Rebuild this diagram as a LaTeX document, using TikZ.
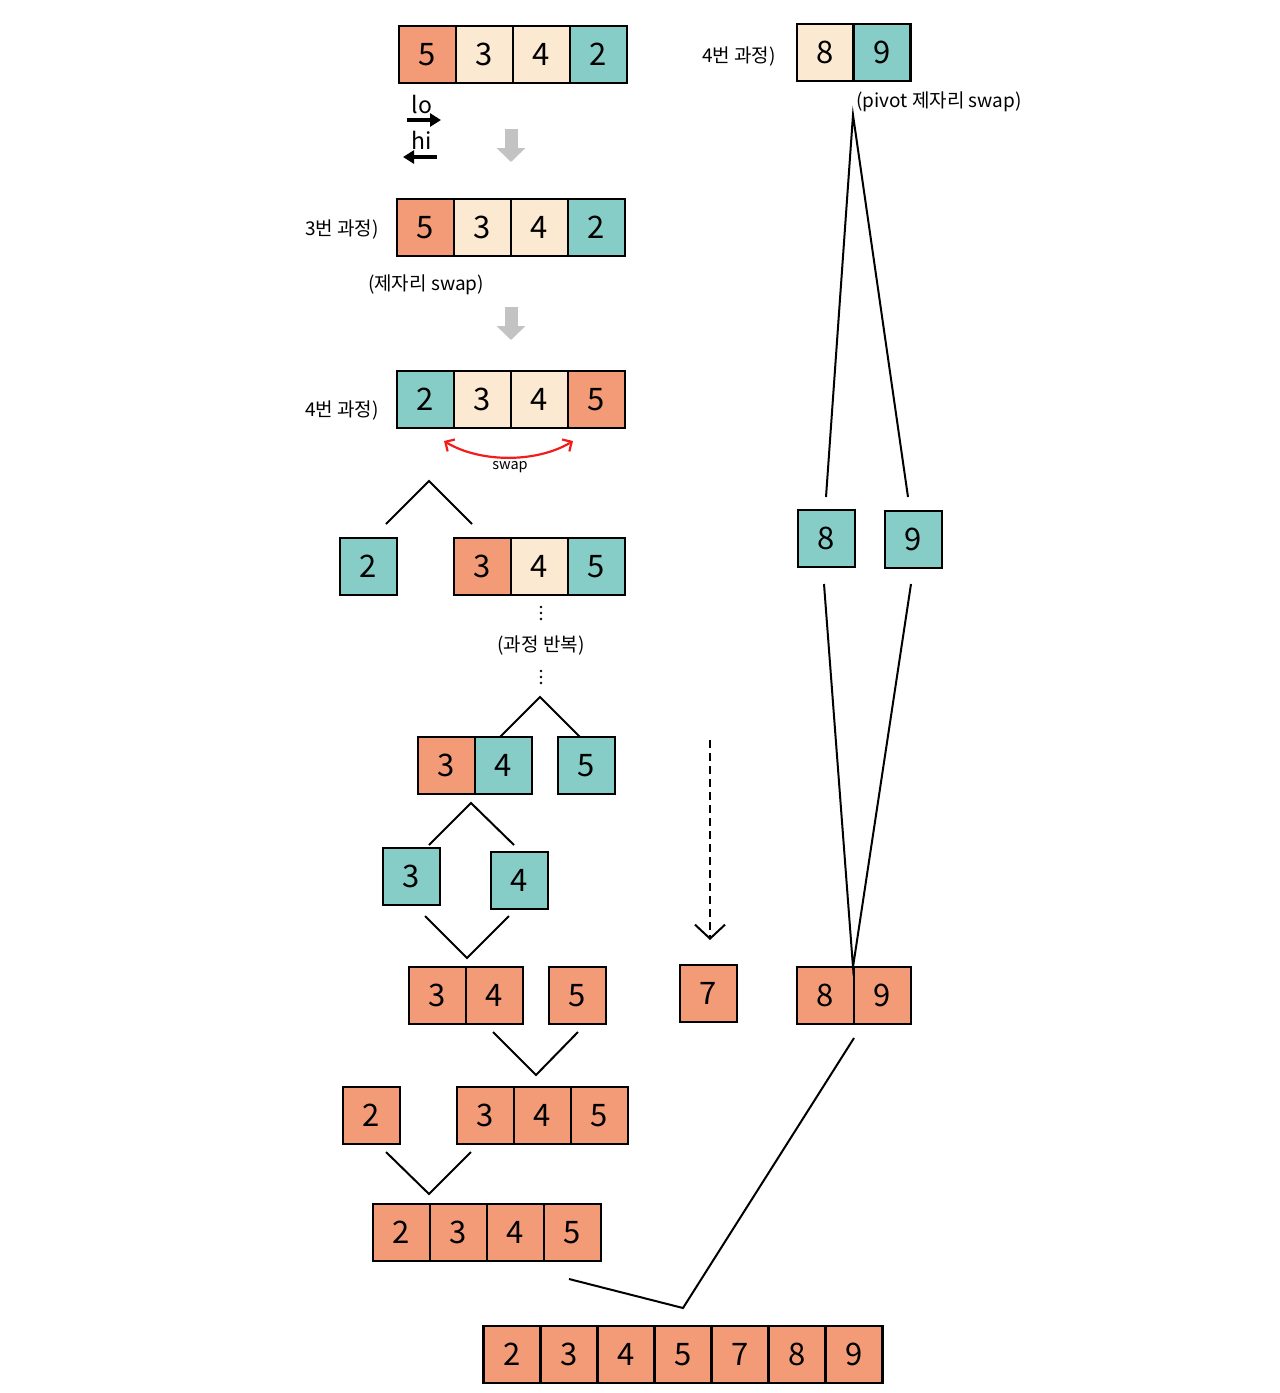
\documentclass[tikz,border=0pt]{standalone}
\usepackage{fontspec}
\setmainfont{Noto Sans CJK KR}
\usetikzlibrary{arrows.meta}
\definecolor{og}{HTML}{F39B77}
\definecolor{cr}{HTML}{FCE9D1}
\definecolor{tl}{HTML}{86CDC7}
\definecolor{gr}{HTML}{C3C3C3}
\definecolor{rd}{HTML}{F21C1C}
\begin{document}
\begin{tikzpicture}[x=1pt,y=-1pt,
  cell/.style={draw=black,line width=2.2pt,minimum width=57pt,minimum height=57pt,inner sep=0pt,font=\fontsize{31}{31}\selectfont},
  O/.style={cell,fill=og}, C/.style={cell,fill=cr}, T/.style={cell,fill=tl},
  lbl/.style={font=\fontsize{19}{21}\selectfont,inner sep=0pt},
  tree/.style={line width=2pt,line join=miter},
  grayarrow/.style={gr,line width=13pt,-{Triangle[width=28pt,length=14pt]}},
  lohi/.style={black,line width=4pt,-{Triangle[width=13pt,length=11pt]}}]
\useasboundingbox (0,0) rectangle (1280,1393);

% row 1
\node[O] (a1) at (427.5,54.5) {5};
\node[C] (a2) at (484.5,54.5) {3};
\node[C] (a3) at (541.5,54.5) {4};
\node[T] (a4) at (598.5,54.5) {2};
\node[font=\fontsize{23}{23}\selectfont,inner sep=0pt] (lo) at (422,104) {lo};
\node[font=\fontsize{23}{23}\selectfont,inner sep=0pt] (hi) at (422,140) {hi};
\coordinate (loA) at (407,120); \coordinate (loB) at (441,120);
\coordinate (hiA) at (437,157); \coordinate (hiB) at (403,157);
\draw[lohi] (loA) -- (loB);
\draw[lohi] (hiA) -- (hiB);
\coordinate (g1a) at (511,129); \coordinate (g1b) at (511,162);
\draw[grayarrow] (g1a) -- (g1b);

% row 2
\node[lbl] (l3) at (342,229) {3번 과정)};
\node[O] (b1) at (425.5,227.5) {5};
\node[C] (b2) at (482.5,227.5) {3};
\node[C] (b3) at (539.5,227.5) {4};
\node[T] (b4) at (596.5,227.5) {2};
\node[lbl] (sw1) at (426,285) {(제자리 swap)};
\coordinate (g2a) at (511,307); \coordinate (g2b) at (511,340);
\draw[grayarrow] (g2a) -- (g2b);

% row 3
\node[lbl] (l4) at (342,410) {4번 과정)};
\node[T] (c1) at (425.5,399.5) {2};
\node[C] (c2) at (482.5,399.5) {3};
\node[C] (c3) at (539.5,399.5) {4};
\node[O] (c4) at (596.5,399.5) {5};
\coordinate (swL) at (444,441); \coordinate (swR) at (573,441);
\draw[rd,line width=2.2pt,{Straight Barb[length=7pt,width=14pt]}-{Straight Barb[length=7pt,width=14pt]}]
  (swL) .. controls (480,463) and (537,463) .. (swR);
\node[font=\fontsize{14.5}{14.5}\selectfont,inner sep=0pt] (swl) at (510,467) {swap};

\coordinate (t1a) at (386,524); \coordinate (t1b) at (429,481); \coordinate (t1c) at (472,524);
\draw[tree] (t1a) -- (t1b) -- (t1c);

% row 4
\node[T] (d0) at (368.5,566.5) {2};
\node[O] (d1) at (482.5,566.5) {3};
\node[C] (d2) at (539.5,566.5) {4};
\node[T] (d3) at (596.5,566.5) {5};
\foreach \yy in {607,613,619} {\fill (541,\yy) circle (1.3pt);}
\node[lbl] (rep) at (541,645) {(과정 반복)};
\foreach \yy in {671,677,683} {\fill (541,\yy) circle (1.3pt);}

\coordinate (t2a) at (500,737); \coordinate (t2b) at (540,697); \coordinate (t2c) at (580,737);
\draw[tree] (t2a) -- (t2b) -- (t2c);

% row 5
\node[O] (e1) at (446.5,765.5) {3};
\node[T] (e2) at (503.5,765.5) {4};
\node[T] (e3) at (586.5,765.5) {5};
\coordinate (t3a) at (429,845); \coordinate (t3b) at (471,803); \coordinate (t3c) at (514,845);
\draw[tree] (t3a) -- (t3b) -- (t3c);

% row 6
\node[T] (f1) at (411.5,876.5) {3};
\node[T] (f2) at (519.5,880.5) {4};
\coordinate (v1a) at (425,916); \coordinate (v1b) at (467,958); \coordinate (v1c) at (509,916);
\draw[tree] (v1a) -- (v1b) -- (v1c);

% row 7
\node[O] (h1) at (437.5,995.5) {3};
\node[O] (h2) at (494.5,995.5) {4};
\node[O] (h3) at (577.5,995.5) {5};
\node[O] (h7) at (708.5,993.5) {7};
\node[O] (h8) at (825.5,995.5) {8};
\node[O] (h9) at (882.5,995.5) {9};
\coordinate (v2a) at (493,1032); \coordinate (v2b) at (536,1075); \coordinate (v2c) at (578,1032);
\draw[tree] (v2a) -- (v2b) -- (v2c);

% dashed arrow
\coordinate (da) at (710,740); \coordinate (db) at (710,940);
\draw[line width=2pt,dash pattern=on 8pt off 5pt,-{Straight Barb[length=14pt,width=30pt,line width=2pt]}] (da) -- (db);

% row 8
\node[O] (i0) at (371.5,1115.5) {2};
\node[O] (i1) at (485.5,1115.5) {3};
\node[O] (i2) at (542.5,1115.5) {4};
\node[O] (i3) at (599.5,1115.5) {5};
\coordinate (v3a) at (386,1152); \coordinate (v3b) at (429,1194); \coordinate (v3c) at (471,1152);
\draw[tree] (v3a) -- (v3b) -- (v3c);

% row 9
\node[O] (j1) at (401.5,1232.5) {2};
\node[O] (j2) at (458.5,1232.5) {3};
\node[O] (j3) at (515.5,1232.5) {4};
\node[O] (j4) at (572.5,1232.5) {5};

\coordinate (m1) at (569,1279); \coordinate (m2) at (683,1308); \coordinate (m3) at (854,1038);
\draw[tree] (m1) -- (m2) -- (m3);

% final row
\node[O] (k1) at (512,1354.5) {2};
\node[O] (k2) at (569,1354.5) {3};
\node[O] (k3) at (626,1354.5) {4};
\node[O] (k4) at (683,1354.5) {5};
\node[O] (k5) at (740,1354.5) {7};
\node[O] (k6) at (797,1354.5) {8};
\node[O] (k7) at (854,1354.5) {9};

% right side
\node[lbl] (r4) at (739,57) {4번 과정)};
\node[C] (p1) at (825.5,52.5) {8};
\node[T] (p2) at (882,52.5) {9};
\node[lbl] (psw) at (939,102) {(pivot 제자리 swap)};
\coordinate (q0) at (853,115);
\coordinate (q1) at (826,497); \coordinate (q2) at (908,497);
\draw[tree] (q1) -- (q0) -- (q2);
\node[T] (s1) at (826.5,538.5) {8};
\node[T] (s2) at (913.5,539.5) {9};
\coordinate (u1) at (824,584); \coordinate (u2) at (911,584); \coordinate (u0) at (853,967);
\draw[tree] (u1) -- (u0) -- (u2);
\end{tikzpicture}
\end{document}
